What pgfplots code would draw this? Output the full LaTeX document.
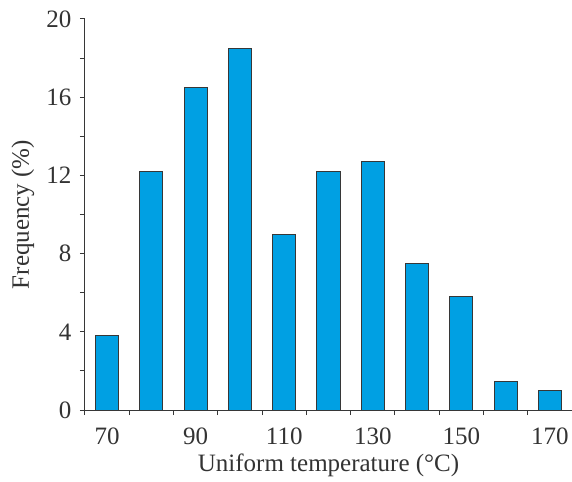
\documentclass[border=0pt]{standalone}
\usepackage{fontspec}
\setmainfont{Liberation Serif}
\usepackage{pgfplots}
\pgfplotsset{compat=1.18}
\definecolor{barblue}{RGB}{0,160,227}
\definecolor{edgegray}{RGB}{55,55,55}
\begin{document}
\fontsize{25bp}{30bp}\selectfont
\begin{tikzpicture}
\useasboundingbox (-85bp,-72bp) rectangle (487bp,410bp);
\begin{axis}[
  at={(0,0)}, anchor=south west,
  scale only axis, width=487bp, height=391bp,
  xmin=65, xmax=175, ymin=0, ymax=20,
  axis x line*=bottom, axis y line*=left,
  axis line style={edgegray, line width=1bp, -},
  tick align=outside,
  major tick length=5bp, minor tick length=5bp,
  every tick/.style={edgegray, line width=1bp},
  ytick={0,4,...,20}, minor ytick={2,6,...,18},
  xtick={65,75,...,175}, xticklabels={},
  extra x ticks={70,90,...,170},
  extra x tick labels={70,90,110,130,150,170},
  extra x tick style={major tick length=0pt, tick label style={inner sep=0pt, yshift=-18bp}},
  /pgf/number format/assume math mode=true,
  ticklabel style={font=\fontsize{25bp}{30bp}\selectfont, text=black!80},
  label style={font=\fontsize{25bp}{30bp}\selectfont, text=black!80},
  xlabel={Uniform temperature (°C)},
  ylabel={Frequency (\%)},
  xlabel style={at={(axis description cs:0.5,-0.111)}, anchor=north, inner sep=0pt},
  ylabel style={at={(axis description cs:-0.1035,0.5)}, anchor=south, inner sep=0pt},
  clip=false,
]
\addplot[ybar, bar width=5.2, fill=barblue, draw=edgegray, line width=1bp] coordinates {
  (70,3.8) (80,12.2) (90,16.5) (100,18.5) (110,9.0) (120,12.2)
  (130,12.7) (140,7.5) (150,5.8) (160,1.45) (170,1.0)
};
\end{axis}
\end{tikzpicture}
\end{document}
